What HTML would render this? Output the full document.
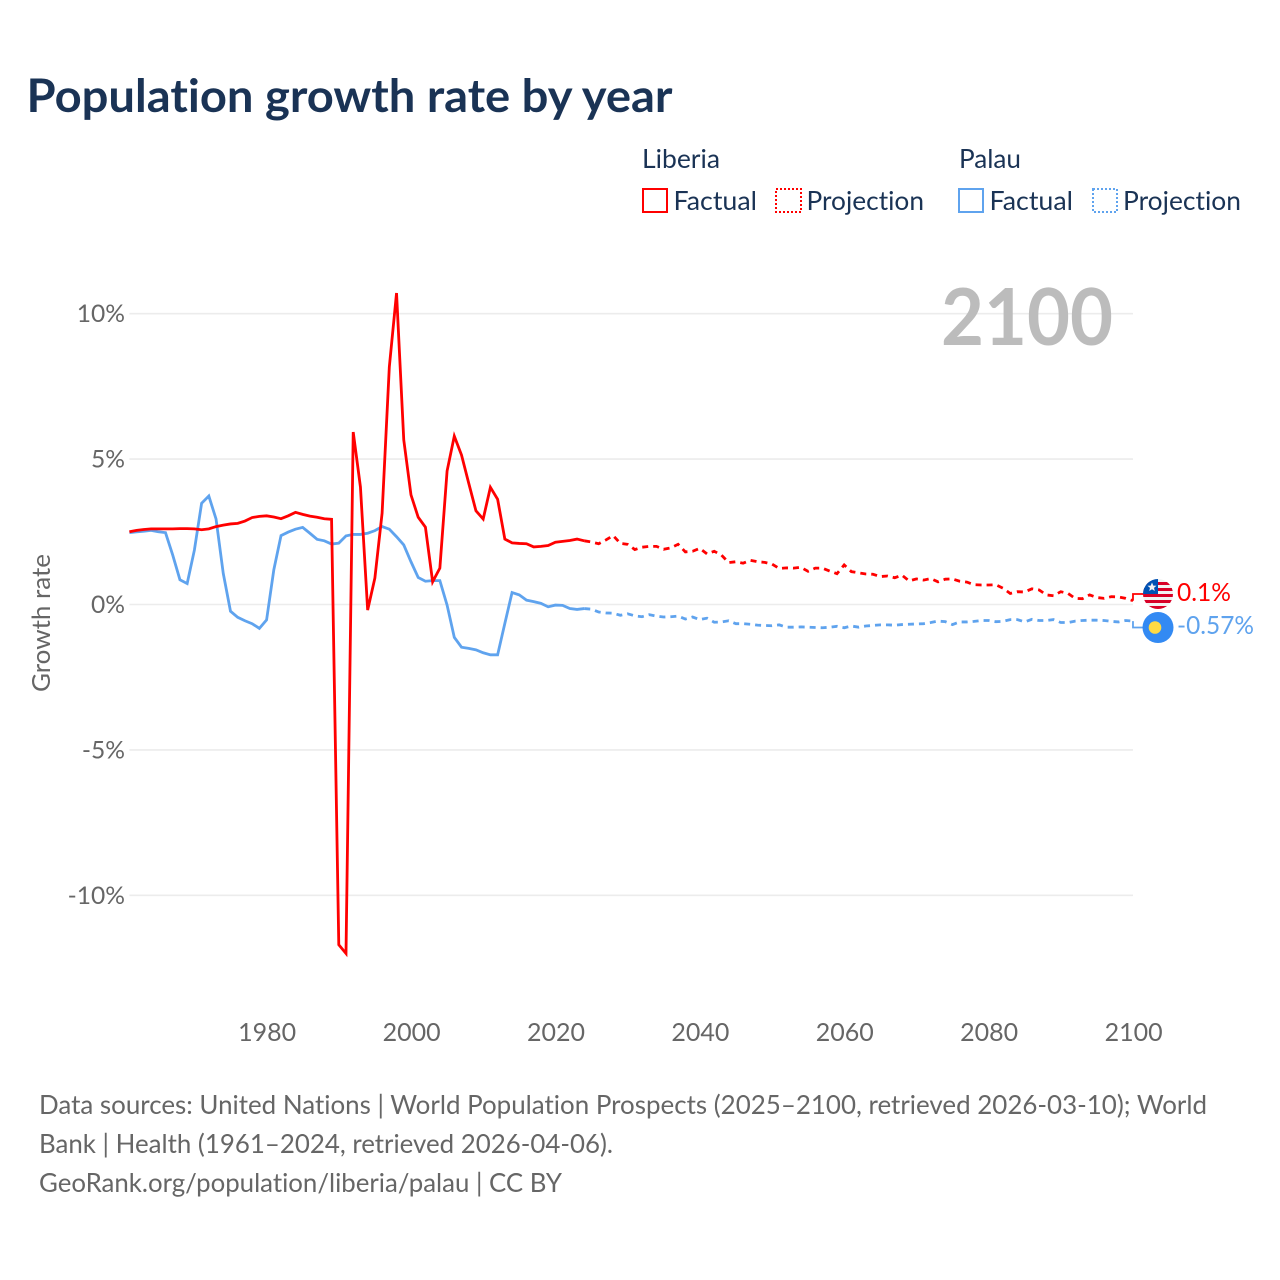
<!DOCTYPE html>
<html lang="en">
<head>
<meta charset="utf-8">
<title>Population growth rate by year</title>
<style>
  html, body { margin: 0; padding: 0; background: #fff; }
  svg { display: block; font-family: "Lato", "Carlito", "Liberation Sans", sans-serif; font-variant-ligatures: none; }
  .navy { fill: #1a3355; }
  .grey { fill: #666; }
</style>
</head>
<body>
<svg id="chart" width="1280" height="1280" viewBox="0 0 1280 1280" xmlns="http://www.w3.org/2000/svg">
  <rect width="1280" height="1280" fill="#fff"/>
  <text class="navy" x="26.5" y="112" font-size="46" font-weight="700" textLength="646" lengthAdjust="spacingAndGlyphs">Population growth rate by year</text>

  <g font-size="26" class="navy">
    <text x="642" y="168" textLength="78" lengthAdjust="spacingAndGlyphs">Liberia</text>
    <text x="959" y="168" textLength="62" lengthAdjust="spacingAndGlyphs">Palau</text>
    <rect x="643" y="189" width="24" height="23" fill="none" stroke="#ff0000" stroke-width="2"/>
    <text x="673.5" y="210" textLength="83.5" lengthAdjust="spacingAndGlyphs">Factual</text>
    <rect x="776" y="189" width="25" height="23" fill="none" stroke="#ff0000" stroke-width="2" stroke-dasharray="2 2"/>
    <text x="806.5" y="210" textLength="117.5" lengthAdjust="spacingAndGlyphs">Projection</text>
    <rect x="959" y="189" width="24" height="23" fill="none" stroke="#5fa3ee" stroke-width="2"/>
    <text x="989.5" y="210" textLength="83.5" lengthAdjust="spacingAndGlyphs">Factual</text>
    <rect x="1093" y="189" width="24" height="23" fill="none" stroke="#5fa3ee" stroke-width="2" stroke-dasharray="2 2"/>
    <text x="1123" y="210" textLength="118" lengthAdjust="spacingAndGlyphs">Projection</text>
  </g>

  <g id="grid"></g>
  <g id="y-labels"></g>
  <g id="x-labels"></g>

  <text x="941" y="345" font-size="79" font-weight="700" fill="#bcbcbc" textLength="172" lengthAdjust="spacingAndGlyphs">2100</text>
  <text class="grey" transform="translate(50,692) rotate(-90)" font-size="25" textLength="138" lengthAdjust="spacingAndGlyphs">Growth rate</text>

  <g id="series"></g>

  <g>
    <clipPath id="lib-clip"><circle cx="1158" cy="594" r="15"/></clipPath>
    <g clip-path="url(#lib-clip)">
      <rect x="1143" y="579" width="30" height="30" fill="#f2f2f2"/>
      <rect x="1143" y="582" width="30" height="3" fill="#d80027"/>
      <rect x="1143" y="588" width="30" height="3" fill="#d80027"/>
      <rect x="1143" y="594" width="30" height="3" fill="#d80027"/>
      <rect x="1143" y="600" width="30" height="3" fill="#d80027"/>
      <rect x="1143" y="606" width="30" height="3" fill="#d80027"/>
      <rect x="1143" y="579" width="15" height="15" fill="#0052b4"/>
      <polygon points="1152,582.5 1153.3,585.6 1156.5,585.8 1154,587.9 1154.8,591 1152,589.3 1149.2,591 1150,587.9 1147.5,585.8 1150.7,585.6" fill="#f2f2f2"/>
    </g>
  </g>
  <g>
    <circle cx="1158" cy="627.5" r="15.5" fill="#338af3"/>
    <circle cx="1155" cy="627.5" r="6.3" fill="#ffda44"/>
  </g>
  <text x="1177" y="601" font-size="25" fill="#ff0000" textLength="54" lengthAdjust="spacingAndGlyphs">0.1%</text>
  <text x="1177" y="634" font-size="25" fill="#5fa3ee" textLength="77" lengthAdjust="spacingAndGlyphs">-0.57%</text>

  <g class="grey" font-size="26">
    <text x="39" y="1114" textLength="1168" lengthAdjust="spacingAndGlyphs">Data sources: United Nations | World Population Prospects (2025–2100, retrieved 2026-03-10); World</text>
    <text x="39" y="1153" textLength="574" lengthAdjust="spacingAndGlyphs">Bank | Health (1961–2024, retrieved 2026-04-06).</text>
    <text x="39" y="1192" textLength="523" lengthAdjust="spacingAndGlyphs">GeoRank.org/population/liberia/palau | CC BY</text>
  </g>
</svg>
<script>
const factualStartYear = 1961;
const projectionStartYear = 2025;
const xTickLabels = [1980, 2000, 2020, 2040, 2060, 2080, 2100];
const yTickLabels = [10, 5, 0, -5, -10];

const liberiaFactual = [
  2.50, 2.55, 2.58, 2.60, 2.60, 2.60, 2.60, 2.61, 2.61, 2.60,
  2.57, 2.60, 2.68, 2.73, 2.77, 2.79, 2.87, 2.99, 3.03, 3.05,
  3.01, 2.95, 3.05, 3.17, 3.10, 3.04, 3.00, 2.95, 2.93, -11.7,
  -12.0, 5.93, 4.04, -0.19, 0.91, 3.14, 8.17, 10.71, 5.66, 3.77,
  3.00, 2.66, 0.78, 1.25, 4.59, 5.79, 5.14, 4.17, 3.22, 2.94,
  4.03, 3.62, 2.25, 2.12, 2.10, 2.09, 1.98, 2.00, 2.03, 2.14,
  2.17, 2.20, 2.25, 2.19
];
const liberiaProjection = [
  2.15, 2.09, 2.22, 2.37, 2.10, 2.07, 1.89, 1.97, 2.00, 2.00,
  1.90, 1.95, 2.07, 1.81, 1.83, 1.93, 1.74, 1.83, 1.70, 1.44,
  1.47, 1.42, 1.52, 1.47, 1.45, 1.39, 1.24, 1.26, 1.25, 1.28,
  1.14, 1.25, 1.25, 1.15, 1.06, 1.36, 1.13, 1.09, 1.05, 1.04,
  0.96, 0.98, 0.92, 1.01, 0.81, 0.88, 0.84, 0.89, 0.78, 0.87,
  0.88, 0.80, 0.77, 0.68, 0.67, 0.67, 0.68, 0.56, 0.38, 0.44,
  0.43, 0.54, 0.50, 0.33, 0.30, 0.44, 0.38, 0.21, 0.20, 0.33,
  0.24, 0.21, 0.27, 0.26, 0.21, 0.13
];
const palauFactual = [
  2.47, 2.50, 2.52, 2.55, 2.50, 2.47, 1.70, 0.85, 0.72, 1.87,
  3.48, 3.73, 2.94, 1.07, -0.23, -0.44, -0.56, -0.66, -0.82, -0.53,
  1.19, 2.37, 2.49, 2.59, 2.65, 2.45, 2.24, 2.19, 2.08, 2.11,
  2.36, 2.41, 2.41, 2.45, 2.54, 2.68, 2.59, 2.33, 2.05, 1.47,
  0.93, 0.80, 0.82, 0.82, -0.02, -1.13, -1.47, -1.51, -1.56, -1.66,
  -1.73, -1.73, -0.65, 0.41, 0.33, 0.15, 0.10, 0.04, -0.08, -0.02,
  -0.03, -0.14, -0.17, -0.14
];
const palauProjection = [
  -0.16, -0.26, -0.29, -0.30, -0.37, -0.32, -0.39, -0.42, -0.35, -0.40,
  -0.43, -0.42, -0.40, -0.50, -0.43, -0.52, -0.47, -0.61, -0.60, -0.56,
  -0.66, -0.66, -0.68, -0.71, -0.72, -0.73, -0.70, -0.78, -0.78, -0.77,
  -0.78, -0.79, -0.80, -0.78, -0.75, -0.80, -0.74, -0.78, -0.74, -0.72,
  -0.70, -0.70, -0.71, -0.69, -0.68, -0.67, -0.66, -0.62, -0.57, -0.59,
  -0.69, -0.60, -0.60, -0.58, -0.55, -0.55, -0.59, -0.58, -0.52, -0.52,
  -0.60, -0.51, -0.55, -0.55, -0.52, -0.62, -0.62, -0.57, -0.55, -0.54,
  -0.54, -0.55, -0.58, -0.60, -0.55, -0.57
];

const SVG_NS = 'http://www.w3.org/2000/svg';
const RED = '#ff0000';
const BLUE = '#5fa3ee';
function xScale(year) { return 129.4 + (year - 1961) * 7.22; }
function yScale(value) { return 604.5 - value * 29.08; }

const gridLayer = document.getElementById('grid');
const yLabelLayer = document.getElementById('y-labels');
const xLabelLayer = document.getElementById('x-labels');
const seriesLayer = document.getElementById('series');

yTickLabels.forEach(function (tick) {
  const line = document.createElementNS(SVG_NS, 'line');
  
  
  line.setAttribute('x1', xScale(1961));
  line.setAttribute('x2', xScale(2100));
  line.setAttribute('y1', yScale(tick));
  line.setAttribute('y2', yScale(tick));
  line.setAttribute('stroke', '#ececec');
  line.setAttribute('stroke-width', '1.6');
  gridLayer.appendChild(line);

  const label = document.createElementNS(SVG_NS, 'text');
  
  
  label.setAttribute('x', 125);
  label.setAttribute('y', yScale(tick) + 8.5);
  label.setAttribute('text-anchor', 'end');
  label.setAttribute('font-size', '24.6');
  label.setAttribute('class', 'grey');
  label.textContent = tick + '%';
  yLabelLayer.appendChild(label);
});

xTickLabels.forEach(function (tick) {
  const label = document.createElementNS(SVG_NS, 'text');
  
  
  label.setAttribute('x', xScale(tick) + 0.6);
  label.setAttribute('y', 1041);
  label.setAttribute('text-anchor', 'middle');
  label.setAttribute('font-size', '25');
  label.setAttribute('class', 'grey');
  label.textContent = tick;
  xLabelLayer.appendChild(label);
});

function pathFrom(values, startYear) {
  return values.map(function (value, index) {
    return (index === 0 ? 'M' : 'L') + xScale(startYear + index).toFixed(2) + ' ' + yScale(value).toFixed(2);
  }).join(' ');
}

function addLine(d, color, dash, width, name) {
  const path = document.createElementNS(SVG_NS, 'path');
  
  
  path.setAttribute('d', d);
  path.setAttribute('fill', 'none');
  path.setAttribute('stroke', color);
  path.setAttribute('stroke-width', width);
  if (dash) path.setAttribute('stroke-dasharray', dash);
  seriesLayer.appendChild(path);
}

function lastOf(values) { return values[values.length - 1]; }

addLine(pathFrom(palauFactual, factualStartYear), BLUE, null, '2.8', 'palau-factual-line');
addLine(pathFrom(liberiaFactual, factualStartYear), RED, null, '2.8', 'liberia-factual-line');
addLine(pathFrom([lastOf(palauFactual)].concat(palauProjection), projectionStartYear - 1), BLUE, '6 5', '2.8', 'palau-projection-line');
addLine(pathFrom([lastOf(liberiaFactual)].concat(liberiaProjection), projectionStartYear - 1), RED, '6 5', '2.8', 'liberia-projection-line');

const endX = xScale(2100);
addLine('M' + endX + ' ' + yScale(lastOf(liberiaProjection)) + ' V594 H1145', RED, null, '1.8', 'liberia-end-connector');
addLine('M' + endX + ' ' + yScale(lastOf(palauProjection)) + ' V627.5 H1145', BLUE, null, '1.8', 'palau-end-connector');
</script>
</body>
</html>
